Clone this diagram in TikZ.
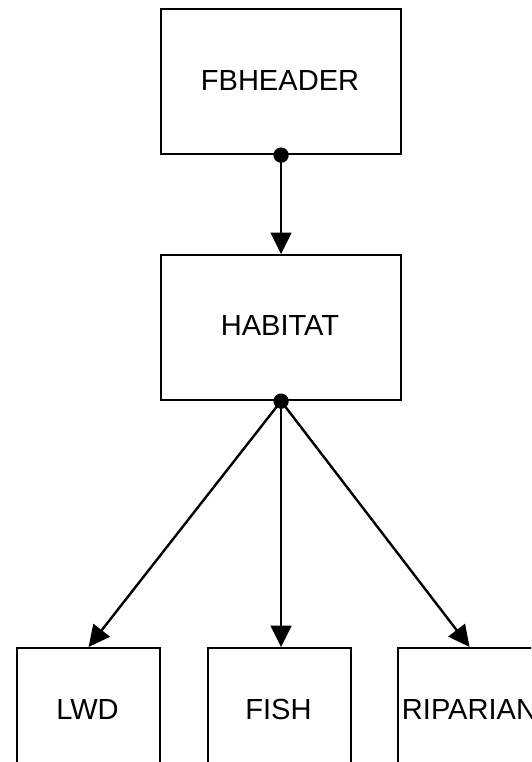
\documentclass[tikz,border=0pt]{standalone}
\usepackage{fontspec}
\setmainfont{Liberation Sans}
\usetikzlibrary{arrows.meta}
\begin{document}
\begin{tikzpicture}[x=0.75pt,y=-0.75pt,
  box/.style={draw=black,line width=1.6pt,fill=white,inner sep=0pt},
  lbl/.style={font=\fontsize{21.8}{26}\selectfont,text=black,inner sep=0pt},
  conn/.style={line width=1.8pt,-{Triangle[length=16pt,width=15.5pt]}},
  dotmark/.style={circle,fill=black,inner sep=0pt,minimum size=11.5pt}]
\useasboundingbox (0,0) rectangle (531,762);
\begin{scope}
\clip (0,0) rectangle (531,762);
% boxes
\node[box,minimum width=180pt,minimum height=108.75pt,anchor=north west] (fb) at (160,8) {};
\node[lbl] (fbt) at (280,80.5) {FBHEADER};
\node[box,minimum width=180pt,minimum height=108.75pt,anchor=north west] (hab) at (160,254) {};
\node[lbl] (habt) at (280,326) {HABITAT};
\node[box,minimum width=107.25pt,minimum height=112pt,anchor=north west] (lwd) at (16,647) {};
\node[lbl] (lwdt) at (87.5,709) {LWD};
\node[box,minimum width=107.25pt,minimum height=112pt,anchor=north west] (fish) at (207,647) {};
\node[lbl] (fisht) at (278.5,709) {FISH};
\node[box,minimum width=107.25pt,minimum height=112pt,anchor=north west] (rip) at (397,647) {};
\node[lbl] (ript) at (469.5,709) {RIPARIAN};
% connectors
\draw[conn] (fb.south) -- (hab.north);
\draw[conn] (hab.south) -- (lwd.north);
\draw[conn] (hab.south) -- (hab.south |- fish.north);
\draw[conn] (hab.south) -- (rip.north);
\node[dotmark] (d1) at (fb.south) {};
\node[dotmark] (d2) at (hab.south) {};
\end{scope}
\end{tikzpicture}
\end{document}
